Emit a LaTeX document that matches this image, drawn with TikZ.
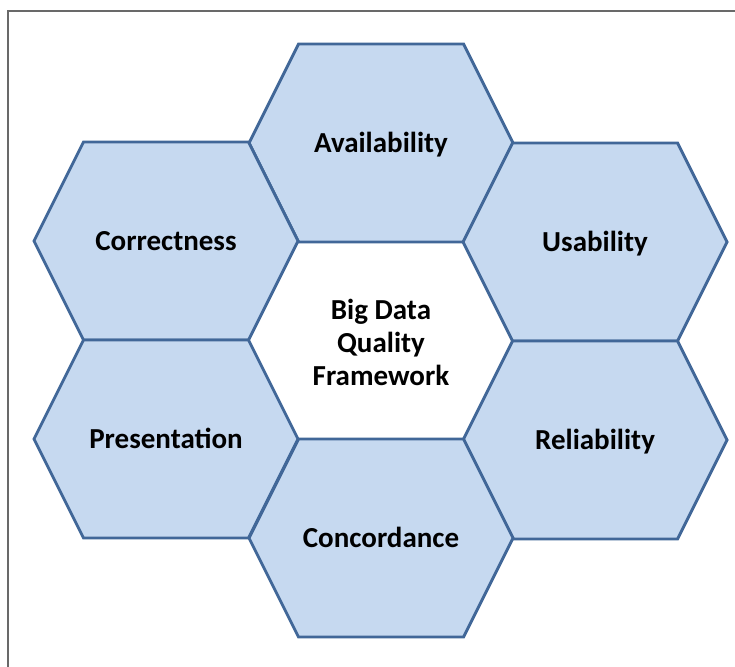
\documentclass[tikz,border=0pt]{standalone}
\usepackage{fontspec}
\setmainfont{Carlito}
\begin{document}
\begin{tikzpicture}[x=1pt,y=-1pt,
  cellfill/.style={fill={rgb,255:red,198;green,217;blue,240}},
  cellline/.style={draw={rgb,255:red,65;green,103;blue,152},line width=2.9pt,line join=miter},
  cellname/.style={font=\bfseries\fontsize{29}{33}\selectfont,text=black,align=center,inner sep=0pt},
  frameline/.style={draw={rgb,255:red,105;green,105;blue,105},line width=1.6pt}]
\useasboundingbox (0,0) rectangle (735,666);
\fill[white] (0,0) rectangle (735,666);
% outer frame (top and left edges only)
\coordinate (fr1) at (8,667);
\coordinate (fr2) at (8,11);
\coordinate (fr3) at (736,11);
\draw[frameline] (fr1) -- (fr2) -- (fr3);
% one hexagonal cell: name, centre x, centre y, label (set on a baseline 9pt below centre)
\newcommand\hexcell[4]{%
  \path[cellfill,cellline] (#2-132,#3) -- (#2-82.5,#3-99) -- (#2+82.5,#3-99)
     -- (#2+132,#3) -- (#2+82.5,#3+99) -- (#2-82.5,#3+99) -- cycle;
  \node[cellname,anchor=base] (#1) at (#2,#3+9.5) {#4};}
\hexcell{avail}{381}{143}{Availability}
\hexcell{corr}{166}{241}{Correctness}
\hexcell{usab}{595}{242}{Usability}
\hexcell{pres}{166}{439}{Presentation}
\hexcell{reli}{595}{440}{Reliability}
\hexcell{conc}{381}{538}{Concordance}
\node[cellname] (core) at (381,342) {Big Data\\Quality\\Framework};
\end{tikzpicture}
\end{document}
